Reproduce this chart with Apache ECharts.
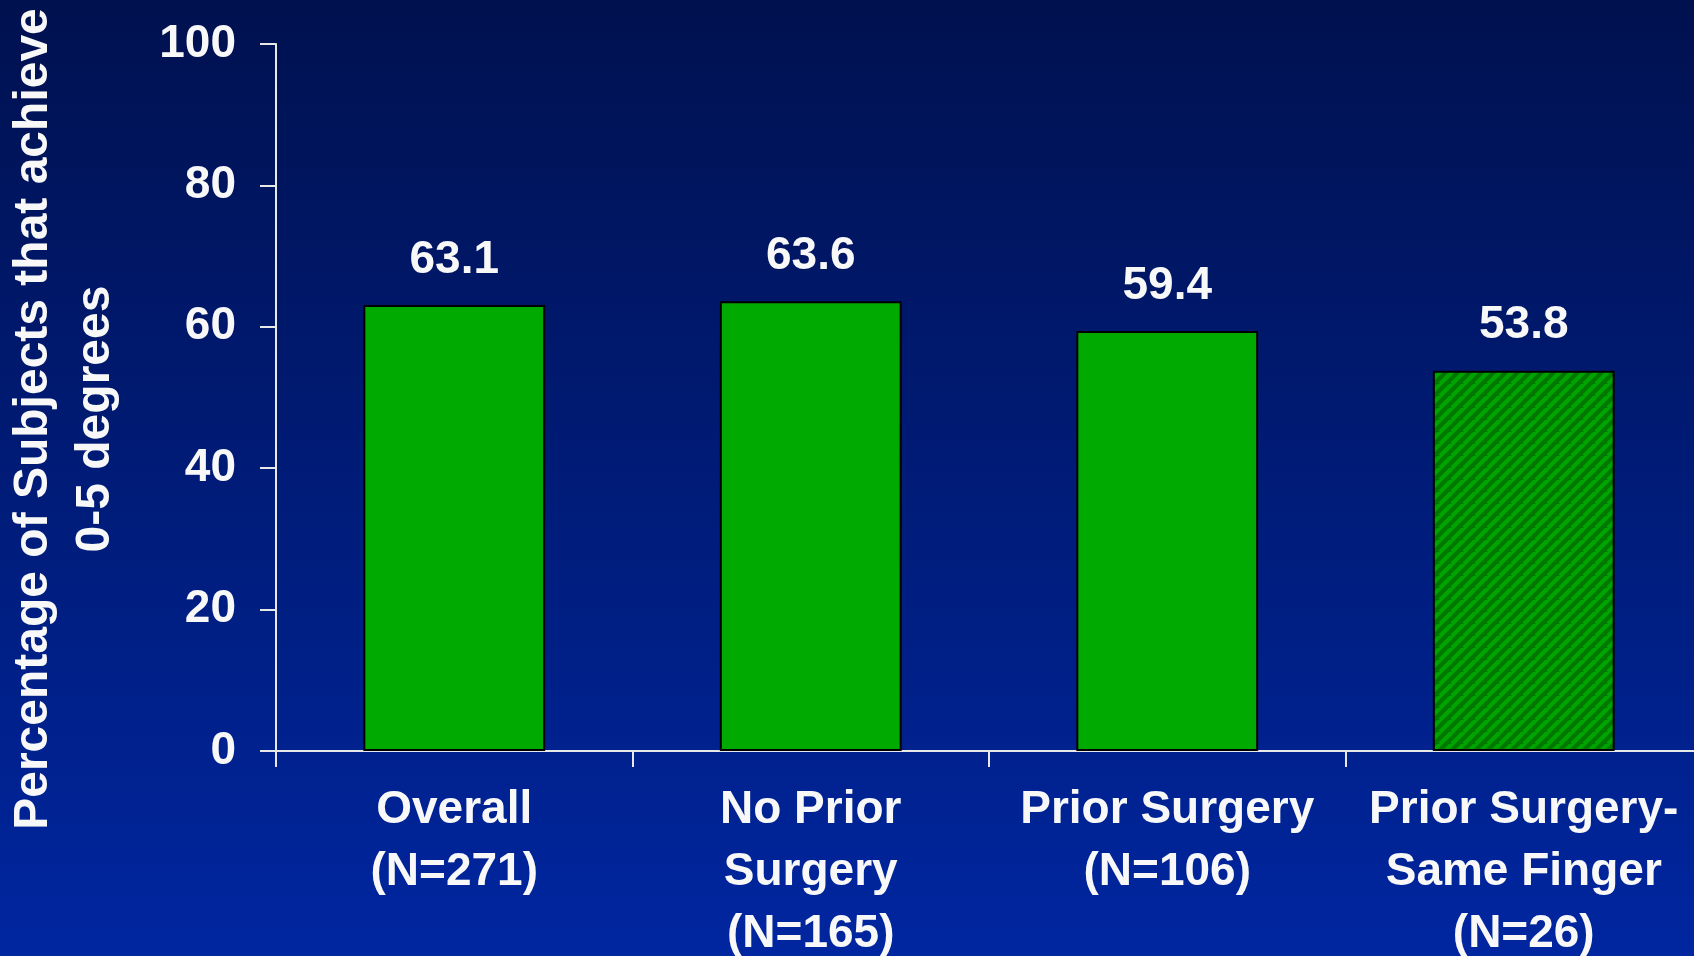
<!DOCTYPE html>
<html>
<head>
<meta charset="utf-8">
<title>Subjects achieving 0-5 degrees</title>
<script src="https://cdn.jsdelivr.net/npm/echarts@6/dist/echarts.min.js"></script>
<style>
  html, body { margin: 0; padding: 0; }
  #chart { width: 1694px; height: 956px; }
</style>
</head>
<body>
<div id="chart"></div>
<script>
// Groups and their percentages
const categories = [
  'Overall\n(N=271)',
  'No Prior\nSurgery\n(N=165)',
  'Prior Surgery\n(N=106)',
  'Prior Surgery-\nSame Finger\n(N=26)'
];
const percentages = [63.1, 63.6, 59.4, 53.8];
const hatched = [false, false, false, true];
const yTicks = { min: 0, max: 100, interval: 20 };

// Diagonal stripe tile for the hatched bar
function stripeTile() {
  const s = 12;
  const c = document.createElement('canvas');
  c.width = s; c.height = s;
  const ctx = c.getContext('2d');
  ctx.fillStyle = '#007800';
  ctx.fillRect(0, 0, s, s);
  ctx.strokeStyle = '#00A400';
  ctx.lineWidth = 4.2;
  [0, s, 2 * s].forEach(k => {
    ctx.beginPath();
    ctx.moveTo(k - s, s);
    ctx.lineTo(k + s, -s);
    ctx.stroke();
  });
  return c;
}

const chart = echarts.init(document.getElementById('chart'), null, { renderer: 'canvas' });
const font = '"Liberation Sans", Arial, sans-serif';
const white = '#F8F8F8';

chart.setOption({
  backgroundColor: {
    type: 'linear', x: 0, y: 0, x2: 0, y2: 1,
    colorStops: [
      { offset: 0, color: '#00114F' },
      { offset: 1, color: '#0026A0' }
    ]
  },
  animation: false,
  grid: {
    left: 276, top: 44, right: -8, bottom: 205,
    containLabel: false,
    outerBoundsMode: 'none'
  },
  graphic: [{
    type: 'text',
    x: 65, y: 419,
    rotation: Math.PI / 2,
    style: {
      text: 'Percentage of Subjects that achieve\n0-5 degrees',
      fill: white,
      font: 'bold 48px ' + font,
      lineHeight: 62,
      align: 'center',
      verticalAlign: 'middle'
    }
  }],
  xAxis: {
    type: 'category',
    data: categories,
    axisLine: { lineStyle: { color: '#E8E8E8', width: 2 } },
    axisTick: { show: true, length: 16, inside: false, alignWithLabel: false, lineStyle: { color: '#E8E8E8', width: 2 } },
    axisLabel: {
      color: white, fontFamily: font, fontWeight: 'bold', fontSize: 46,
      lineHeight: 62, margin: 28, interval: 0
    }
  },
  yAxis: {
    type: 'value',
    min: yTicks.min, max: yTicks.max, interval: yTicks.interval,
    axisLine: { show: true, lineStyle: { color: '#E8E8E8', width: 2 } },
    axisTick: { show: true, length: 16, lineStyle: { color: '#E8E8E8', width: 2 } },
    splitLine: { show: false },
    axisLabel: {
      color: white, fontFamily: font, fontWeight: 'bold', fontSize: 46, margin: 40
    }
  },
  series: [{
    type: 'bar',
    barWidth: '51%',
    data: percentages.map((v, i) => ({
      value: v,
      itemStyle: hatched[i]
        ? { color: { image: stripeTile(), repeat: 'repeat' } }
        : { color: '#00AA00' }
    })),
    itemStyle: { borderColor: '#000000', borderWidth: 2 },
    label: {
      show: true, position: 'top', distance: 22,
      color: white, fontFamily: font, fontWeight: 'bold', fontSize: 46,
      formatter: p => p.value.toFixed(1)
    }
  }]
});
</script>
</body>
</html>
